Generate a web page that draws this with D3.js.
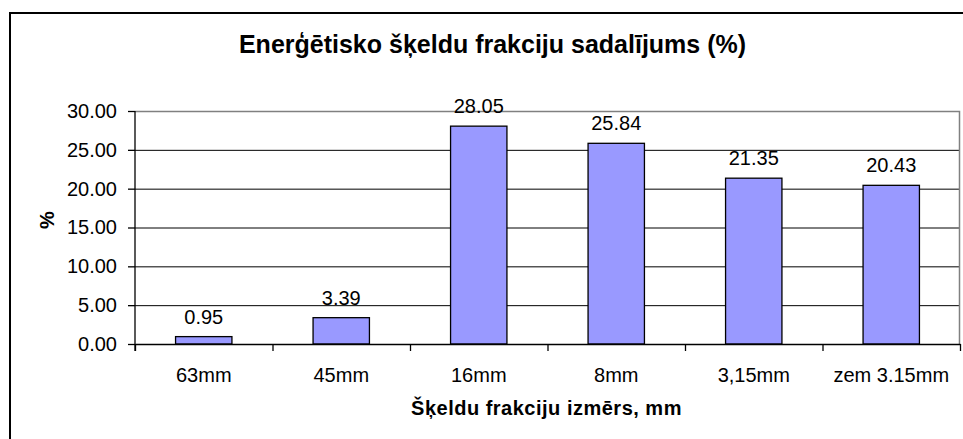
<!DOCTYPE html>
<html>
<head>
<meta charset="utf-8">
<script src="https://cdn.jsdelivr.net/npm/d3@7"></script>
<style>
  body { margin: 0; background: #fff; }
  svg { display: block; font-family: Arial, "Liberation Sans", sans-serif; }
</style>
</head>
<body>
<svg id="chart" width="963" height="439"></svg>
<script>
// data
var categories = ["63mm", "45mm", "16mm", "8mm", "3,15mm", "zem 3.15mm"];
var values = [0.95, 3.39, 28.05, 25.84, 21.35, 20.43];
var yTicks = [0, 5, 10, 15, 20, 25, 30];
var chartTitle = "Enerģētisko šķeldu frakciju sadalījums (%)";
var xTitle = "Šķeldu frakciju izmērs, mm";
var yTitle = "%";

var svg = d3.select("#chart"),
    margin = {top: 111, right: 3, bottom: 95, left: 135},
    width = +svg.attr("width") - margin.left - margin.right,
    height = +svg.attr("height") - margin.top - margin.bottom;

// outer chart frame (runs off the right / bottom edge)
svg.append("rect")
  .attr("x", 10).attr("y", 13)
  .attr("width", 1000).attr("height", 500)
  .attr("fill", "#fff")
  .attr("stroke", "#000")
  .attr("stroke-width", 2);

svg.append("text")
  .attr("x", 492.5).attr("y", 53)
  .attr("text-anchor", "middle")
  .attr("font-size", "25px")
  .attr("font-weight", "bold")
  .text(chartTitle);

var g = svg.append("g").attr("transform", "translate(" + margin.left + "," + margin.top + ")");

var x = d3.scaleBand()
  .domain(categories)
  .range([0, width])
  .paddingInner(0.59)
  .paddingOuter(0.295);

// category boundaries for the tick marks
var xb = d3.scaleLinear().domain([0, categories.length]).range([0, width]);

var y = d3.scaleLinear().domain([0, 30]).range([height, 0]);

// gridlines
g.append("g")
  .attr("class", "grid")
  .call(d3.axisLeft(y).tickValues(yTicks.slice(1, -1)).tickSize(-width).tickFormat(""))
  .call(function(s) { s.select(".domain").remove(); })
  .selectAll("line").attr("stroke", "#000");

// plot area border (grey top / right)
g.append("path")
  .attr("d", "M0,0.5H" + (width - 0.5) + "V" + height)
  .attr("fill", "none")
  .attr("stroke", "#808080")
  .attr("stroke-width", 1.5);

// bars
g.selectAll("rect.bar")
  .data(values)
  .enter().append("rect")
  .attr("class", "bar")
  .attr("x", function(d, i) { return x(categories[i]); })
  .attr("y", function(d) { return y(d); })
  .attr("width", x.bandwidth())
  .attr("height", function(d) { return y(0) - y(d); })
  .attr("fill", "#9999ff")
  .attr("stroke", "#000")
  .attr("stroke-width", 1.3);

// value labels
g.selectAll("text.val")
  .data(values)
  .enter().append("text")
  .attr("class", "val")
  .attr("x", function(d, i) { return x(categories[i]) + x.bandwidth() / 2; })
  .attr("y", function(d) { return y(d) - 13; })
  .attr("text-anchor", "middle")
  .attr("font-size", "20px")
  .text(function(d) { return d.toFixed(2); });

// y axis
var yAxis = g.append("g")
  .call(d3.axisLeft(y).tickValues(yTicks).tickFormat(d3.format(".2f")).tickSize(7).tickPadding(11));
yAxis.selectAll("text").attr("font-size", "20px").attr("fill", "#000");
yAxis.selectAll("line, path").attr("stroke", "#000").attr("stroke-width", 1.3);
yAxis.select(".domain").attr("d", "M0,0V" + (height + 7));

// x axis: tick marks at the category boundaries
var xTickAxis = g.append("g")
  .attr("transform", "translate(0," + height + ")")
  .call(d3.axisBottom(xb).ticks(categories.length).tickSize(7).tickSizeOuter(0).tickFormat(""));
xTickAxis.selectAll("line, path").attr("stroke", "#000").attr("stroke-width", 1.3);

// x axis: labels
var xAxis = g.append("g")
  .attr("transform", "translate(0," + height + ")")
  .call(d3.axisBottom(x).tickSize(0).tickPadding(24));
xAxis.select(".domain").remove();
xAxis.selectAll("text").attr("font-size", "20px").attr("fill", "#000");

// axis titles
svg.append("text")
  .attr("x", margin.left + width / 2 - 1)
  .attr("y", 415)
  .attr("text-anchor", "middle")
  .attr("font-size", "20px")
  .attr("font-weight", "bold")
  .attr("letter-spacing", "0.5px")
  .text(xTitle);

svg.append("text")
  .attr("transform", "translate(54,220) rotate(-90)")
  .attr("text-anchor", "middle")
  .attr("font-size", "20px")
  .attr("font-weight", "bold")
  .text(yTitle);
</script>
</body>
</html>
